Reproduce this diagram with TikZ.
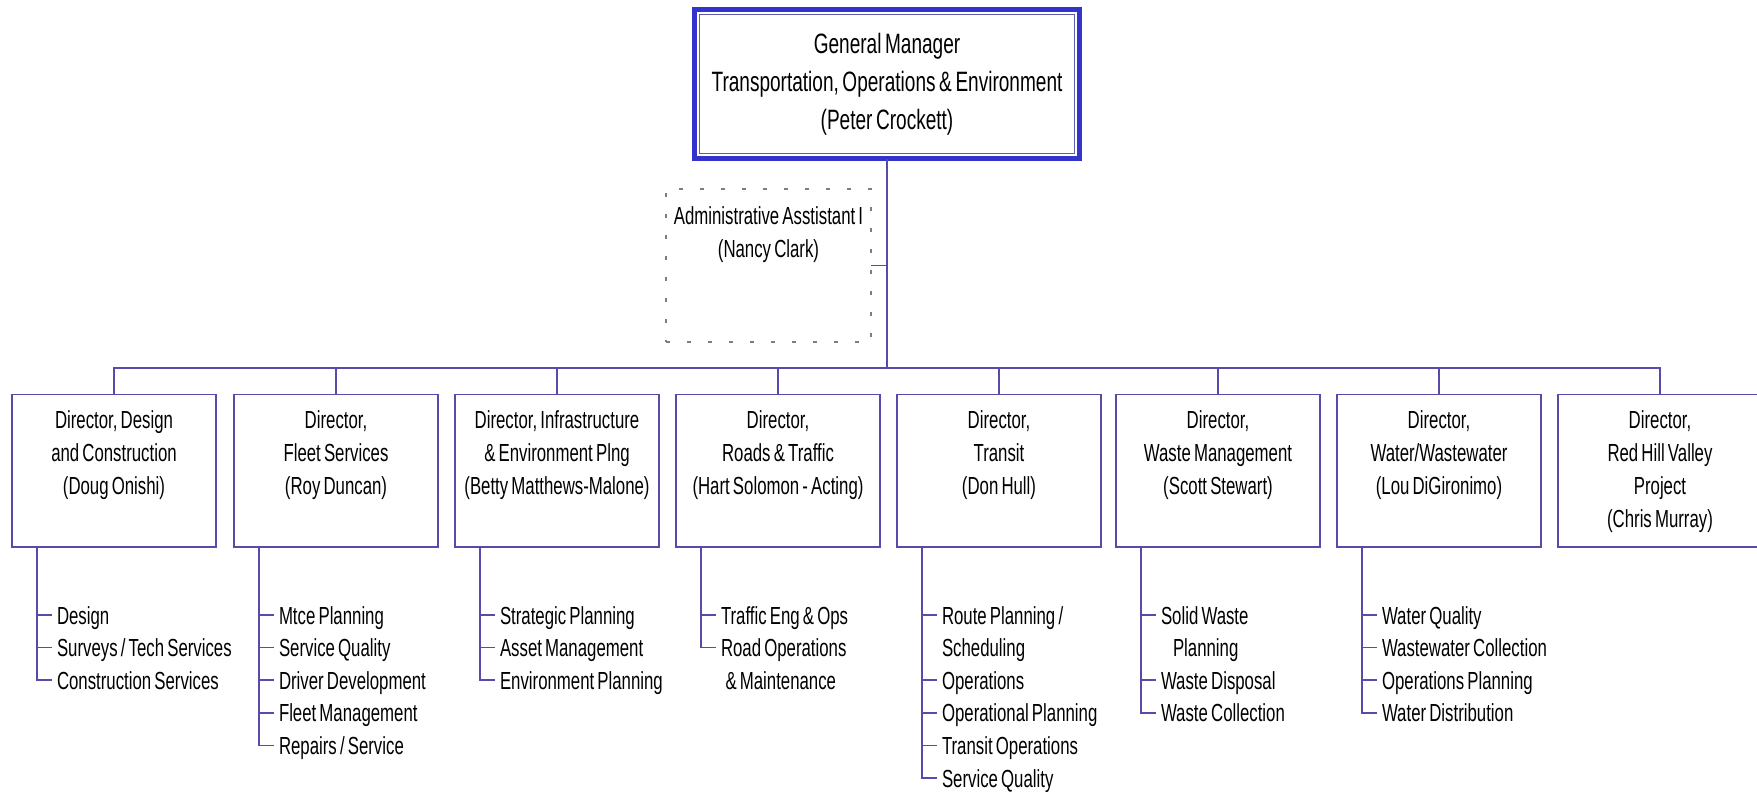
\documentclass[tikz,border=0pt]{standalone}
\usepackage{fontspec}
\setmainfont{Liberation Sans}[FakeStretch=0.68, WordSpace=0.68]

\definecolor{orgline}{RGB}{86,74,170}
\definecolor{gmblue}{RGB}{52,52,204}
\definecolor{gminner}{RGB}{96,96,168}
\definecolor{assistgray}{RGB}{125,125,125}

\newcommand{\orgfont}{\fontsize{24.7}{33}\selectfont}
\newcommand{\gmfont}{\fontsize{28}{38}\selectfont}

\begin{document}
\begin{tikzpicture}[x=1pt, y=-1pt,
    org line/.style={draw=orgline, line width=1.5pt},
    gm box/.style={rectangle, draw=gmblue, line width=5pt, minimum width=385pt,
                   minimum height=149pt, inner sep=0pt, outer sep=0pt,
                   text width=380pt, align=flush center, font=\gmfont},
    director/.style={rectangle, draw=orgline, line width=1.5pt, anchor=north,
                     minimum width=204pt, inner sep=0pt, outer sep=0pt,
                     text width=204pt, align=flush center, font=\orgfont,
                     text height=33.5pt, text depth=119pt},
    assistant/.style={rectangle, draw=assistgray, line width=1.2pt,
                      dash pattern=on 4pt off 17pt, anchor=north,
                      minimum width=205pt, inner sep=0pt, outer sep=0pt,
                      text width=205pt, align=flush center, font=\orgfont,
                      text height=35pt, text depth=118pt},
    item/.style={anchor=base west, inner xsep=5pt, inner ysep=0pt, outer sep=0pt,
                 text height=18pt, text depth=0pt, font=\orgfont}]

  \useasboundingbox (0,0) rectangle (1757,792);

  \node[gm box] (gm) at (887,84) {General Manager\\Transportation, Operations \& Environment\\(Peter Crockett)};
  \draw[gminner, line width=1pt] ([shift={(5,5)}]gm.north west) rectangle ([shift={(-5,-5)}]gm.south east);

  \node[assistant] (admin) at (768.5,189) {Administrative Asstistant I\\(Nancy Clark)};

  \coordinate (bus) at (887,368);

  \node[director] (d1) at (114,394.5)  {Director, Design\\and Construction\\(Doug Onishi)};
  \node[director] (d2) at (336,394.5)  {Director,\\Fleet Services\\(Roy Duncan)};
  \node[director] (d3) at (557,394.5)  {Director, Infrastructure\\\& Environment Plng\\(Betty Matthews-Malone)};
  \node[director] (d4) at (778,394.5)  {Director,\\Roads \& Traffic\\(Hart Solomon - Acting)};
  \node[director] (d5) at (999,394.5)  {Director,\\Transit\\(Don Hull)};
  \node[director] (d6) at (1218,394.5) {Director,\\Waste Management\\(Scott Stewart)};
  \node[director] (d7) at (1439,394.5) {Director,\\Water/Wastewater\\(Lou DiGironimo)};
  \node[director] (d8) at (1660,394.5) {Director,\\Red Hill Valley\\Project\\(Chris Murray)};

  \draw[org line] (gm.south) -- (bus);
  \draw[org line] (admin.east) -- (admin.east -| bus);
  \foreach \d in {d1,d2,d3,d4,d5,d6,d7,d8}
    \draw[org line] (\d.north) |- (bus);

  \foreach \n in {1,...,7}
    \coordinate (s\n) at ([xshift=25pt]d\n.south west);

  \foreach \t [count=\k from 0] in {Design, Surveys / Tech Services, Construction Services}
    \node[item] (i1-\k) at (52,{624+32.6*\k}) {\t};
  \foreach \t [count=\k from 0] in {Mtce Planning, Service Quality, Driver Development, Fleet Management, Repairs / Service}
    \node[item] (i2-\k) at (274,{624+32.6*\k}) {\t};
  \foreach \t [count=\k from 0] in {Strategic Planning, Asset Management, Environment Planning}
    \node[item] (i3-\k) at (495,{624+32.6*\k}) {\t};
  \foreach \t [count=\k from 0] in {Traffic Eng \& Ops, Road Operations, \hspace*{4.5pt}\& Maintenance}
    \node[item] (i4-\k) at (716,{624+32.6*\k}) {\t};
  \foreach \t [count=\k from 0] in {Route Planning /, Scheduling, Operations, Operational Planning, Transit Operations, Service Quality}
    \node[item] (i5-\k) at (937,{624+32.6*\k}) {\t};
  \foreach \t [count=\k from 0] in {Solid Waste, \hspace*{12pt}Planning, Waste Disposal, Waste Collection}
    \node[item] (i6-\k) at (1156,{624+32.6*\k}) {\t};
  \foreach \t [count=\k from 0] in {Water Quality, Wastewater Collection, Operations Planning, Water Distribution}
    \node[item] (i7-\k) at (1377,{624+32.6*\k}) {\t};

  \foreach \k in {0,1,2} \draw[org line] (s1) |- (i1-\k.west);
  \foreach \k in {0,...,4} \draw[org line] (s2) |- (i2-\k.west);
  \foreach \k in {0,1,2} \draw[org line] (s3) |- (i3-\k.west);
  \foreach \k in {0,1} \draw[org line] (s4) |- (i4-\k.west);
  \foreach \k in {0,2,3,4,5} \draw[org line] (s5) |- (i5-\k.west);
  \foreach \k in {0,2,3} \draw[org line] (s6) |- (i6-\k.west);
  \foreach \k in {0,...,3} \draw[org line] (s7) |- (i7-\k.west);
\end{tikzpicture}
\end{document}
